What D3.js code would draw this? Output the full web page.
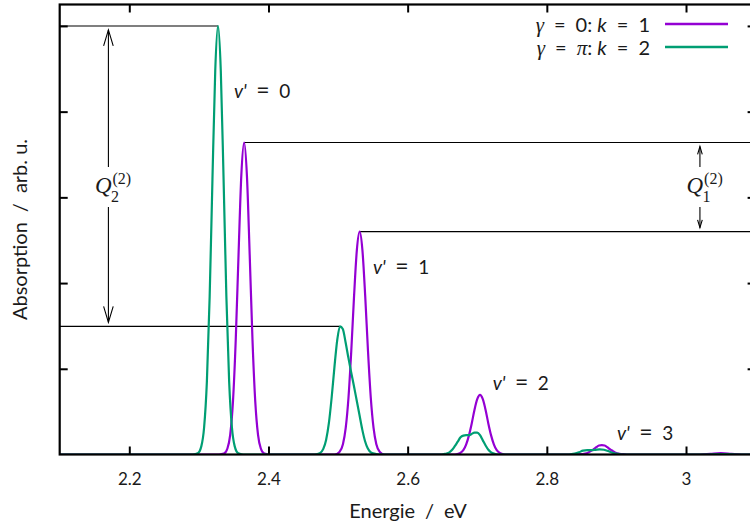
<!DOCTYPE html>
<html><head><meta charset="utf-8">
<script src="https://cdn.jsdelivr.net/npm/d3@7"></script>
<style>body{margin:0;background:#fff} svg{display:block}</style>
</head><body>
<svg id="c" width="750" height="530"></svg>
<script>
// ---------- data ----------
const xTicks = [2.2, 2.4, 2.6, 2.8, 3.0];
const yTicks = [0.2, 0.4, 0.6, 0.8, 1.0];

const energyPurple = [2.1,
 2.329, 2.336, 2.341, 2.345, 2.349, 2.353, 2.357, 2.361, 2.365, 2.369, 2.373, 2.377, 2.381, 2.385, 2.389, 2.394, 2.401,
 2.495, 2.502, 2.507, 2.511, 2.515, 2.519, 2.523, 2.527, 2.531, 2.535, 2.539, 2.543, 2.547, 2.551, 2.555, 2.560, 2.567,
 2.668, 2.675, 2.680, 2.684, 2.688, 2.692, 2.696, 2.700, 2.704, 2.708, 2.712, 2.716, 2.720, 2.724, 2.728, 2.733, 2.740,
 2.843, 2.850, 2.855, 2.859, 2.863, 2.867, 2.871, 2.875, 2.879, 2.883, 2.887, 2.891, 2.895, 2.899, 2.903, 2.908, 2.915,
 3.020, 3.035, 3.050, 3.065, 3.080, 3.1];
const absPurple = [0,
 0, 0.002, 0.014, 0.046, 0.124, 0.269, 0.467, 0.652, 0.728, 0.652, 0.467, 0.269, 0.124, 0.046, 0.014, 0.002, 0,
 0, 0.006, 0.024, 0.062, 0.133, 0.242, 0.370, 0.477, 0.520, 0.477, 0.370, 0.242, 0.133, 0.062, 0.024, 0.006, 0,
 0, 0.003, 0.010, 0.023, 0.044, 0.072, 0.104, 0.129, 0.139, 0.129, 0.104, 0.072, 0.044, 0.023, 0.010, 0.003, 0,
 0, 0.001, 0.002, 0.004, 0.008, 0.012, 0.017, 0.021, 0.022, 0.021, 0.017, 0.012, 0.008, 0.004, 0.002, 0.001, 0,
 0, 0.0015, 0.003, 0.0015, 0, 0];

const energyGreen = [2.1,
 2.2915, 2.2985, 2.3035, 2.3075, 2.3115, 2.3155, 2.3195, 2.3235, 2.3275, 2.3315, 2.3355, 2.3395, 2.3435, 2.3475, 2.3515, 2.3565, 2.3635,
 2.4668, 2.4738, 2.4788, 2.4828, 2.4868, 2.4908, 2.4948, 2.4988, 2.5028, 2.5068, 2.5108, 2.5148, 2.5188, 2.5228, 2.5268, 2.5308, 2.5348, 2.5388, 2.5428, 2.5478, 2.5548, 2.5620,
 2.648, 2.652, 2.656, 2.660, 2.664, 2.668, 2.672, 2.676, 2.680, 2.684, 2.688, 2.692, 2.696, 2.700, 2.704, 2.708, 2.712, 2.716, 2.720, 2.724, 2.728, 2.734,
 2.832, 2.840, 2.846, 2.852, 2.858, 2.864, 2.870, 2.876, 2.882, 2.888, 2.894, 2.900, 2.908,
 3.030, 3.045, 3.060, 3.075, 3.1];
const absGreen = [0,
 0, 0.003, 0.019, 0.063, 0.170, 0.369, 0.642, 0.895, 1.000, 0.895, 0.642, 0.369, 0.170, 0.063, 0.019, 0.003, 0,
 0, 0.003, 0.013, 0.034, 0.073, 0.133, 0.204, 0.267, 0.299, 0.293, 0.262, 0.226, 0.192, 0.160, 0.126, 0.092, 0.058, 0.031, 0.014, 0.004, 0.001, 0,
 0, 0.001, 0.002, 0.005, 0.011, 0.020, 0.030, 0.040, 0.044, 0.045, 0.045, 0.048, 0.051, 0.051, 0.045, 0.033, 0.021, 0.011, 0.005, 0.002, 0.0005, 0,
 0, 0.002, 0.005, 0.009, 0.010, 0.010, 0.011, 0.012, 0.011, 0.008, 0.004, 0.002, 0,
 0, 0.001, 0.001, 0, 0];

// reference levels (data units): peak heights marked by horizontal lines
const levelLines = [
  {from: 2.1, to: 2.3275, level: 1.0},
  {from: 2.1, to: 2.5028, level: 0.299},
  {from: 2.365, to: 3.1, level: 0.728},
  {from: 2.531, to: 3.1, level: 0.520}
];
const qArrows = [
  {x: 2.17, hi: 1.0, lo: 0.299, sub: "2"},
  {x: 3.02, hi: 0.728, lo: 0.520, sub: "1"}
];
const qLabelLevel = 0.624;
const vLabels = [
  {x: 2.3505, y: 0.832, n: "0"},
  {x: 2.5502, y: 0.421, n: "1"},
  {x: 2.7222, y: 0.150, n: "2"},
  {x: 2.9008, y: 0.0327, n: "3"}
];
const legendRows = [
  {gamma: "0", k: "1"},
  {gamma: "π", k: "2"}
];

// ---------- layout ----------
const colors = ["#9400D3", "#009E73"];
const SANS = "Lato, 'Open Sans', sans-serif";
const SERIF = "'Liberation Serif', 'DejaVu Serif', serif";
const TXT = "#1a1a1a";
const SP = "\u2002";
const M = {left: 59.7, right: 755.6, top: 4.5, bottom: 454.5};

const svg = d3.select("#c");
const x = d3.scaleLinear().domain([2.1, 3.1]).range([M.left, M.right]);
const y = d3.scaleLinear().domain([0, 1.05]).range([M.bottom, M.top]);

svg.append("defs").append("clipPath").attr("id", "clip")
  .append("rect").attr("x", M.left).attr("y", M.top)
  .attr("width", M.right - M.left).attr("height", M.bottom - M.top);

// reference lines
const ann = svg.append("g").attr("clip-path", "url(#clip)");
ann.selectAll("line.lvl").data(levelLines).join("line")
  .attr("class", "lvl")
  .attr("x1", d => x(d.from)).attr("x2", d => x(d.to))
  .attr("y1", d => y(d.level)).attr("y2", d => y(d.level))
  .attr("stroke", "#000").attr("stroke-width", 1.1);

// arrows
function arrowSeg(g, px, y0, tip) {
  g.append("line").attr("x1", px).attr("x2", px).attr("y1", y0).attr("y2", tip)
    .attr("stroke", "#000").attr("stroke-width", 1.1);
  const len = Math.min(16, Math.abs(y0 - tip) * 0.38);
  const w = len * 0.3;
  const s = Math.sign(y0 - tip);
  g.append("path")
    .attr("d", `M${px - w},${tip + s * len} L${px},${tip} L${px + w},${tip + s * len}`)
    .attr("fill", "none").attr("stroke", "#000").attr("stroke-width", 1.1);
}
qArrows.forEach(a => {
  const px = x(a.x), cy = y(qLabelLevel);
  arrowSeg(ann, px, cy - 20, y(a.hi) + 4);
  arrowSeg(ann, px, cy + 20, y(a.lo) - 4);
  const q0 = px - 13.5, base = cy + 6;
  const qt = svg.append("text").attr("x", q0).attr("y", base)
    .attr("font-family", SERIF).attr("font-style", "italic").attr("font-size", 23)
    .attr("fill", TXT).text("Q");
  const qEnd = q0 + qt.node().getComputedTextLength();
  svg.append("text").attr("x", qEnd + 1).attr("y", base - 9)
    .attr("font-family", SERIF).attr("font-size", 16).attr("fill", TXT).text("(2)");
  svg.append("text").attr("x", qEnd - 0.5).attr("y", base + 9)
    .attr("font-family", SERIF).attr("font-size", 16).attr("fill", TXT).text(a.sub);
});

// curves
const line = d3.line().x(d => x(d[0])).y(d => y(d[1])).curve(d3.curveMonotoneX);
const series = [d3.zip(energyPurple, absPurple), d3.zip(energyGreen, absGreen)];
const curves = svg.append("g").attr("clip-path", "url(#clip)");
curves.selectAll("path").data(series).join("path")
  .attr("d", line).attr("fill", "none")
  .attr("stroke", (d, i) => colors[i]).attr("stroke-width", 2.2)
  .attr("stroke-linejoin", "round");

// helper: "=" with math-like spacing
function eq(t, size) {
  t.append("tspan").text(SP);
  t.append("tspan").attr("font-size", size).text("=");
  t.append("tspan").text(SP);
}

// v' labels
const vl = svg.append("g").attr("font-family", SANS).attr("font-size", 19).attr("fill", TXT);
vLabels.forEach(v => {
  const t = vl.append("text").attr("x", x(v.x)).attr("y", y(v.y));
  t.append("tspan").attr("font-style", "italic").text("v'");
  eq(t, 23);
  t.append("tspan").text(v.n);
});

// axes
function styleAxis(g) {
  g.select(".domain").remove();
  g.selectAll(".tick line").attr("stroke", "#000").attr("stroke-width", 2);
  g.selectAll(".tick text").attr("font-family", SANS).attr("font-size", 17).attr("fill", TXT);
}
svg.append("g").attr("transform", `translate(0,${M.bottom})`)
  .call(d3.axisBottom(x).tickValues(xTicks).tickSizeInner(-8).tickSizeOuter(0)
    .tickPadding(18).tickFormat(d3.format("~g"))).call(styleAxis);
svg.append("g").attr("transform", `translate(0,${M.top})`)
  .call(d3.axisTop(x).tickValues(xTicks).tickSizeInner(-8).tickSizeOuter(0).tickFormat("")).call(styleAxis);
svg.append("g").attr("transform", `translate(${M.left},0)`)
  .call(d3.axisLeft(y).tickValues(yTicks).tickSizeInner(-8).tickSizeOuter(0).tickFormat("")).call(styleAxis);
svg.append("g").attr("transform", `translate(${M.right},0)`)
  .call(d3.axisRight(y).tickValues(yTicks).tickSizeInner(-8).tickSizeOuter(0).tickFormat("")).call(styleAxis);

svg.append("rect").attr("x", M.left).attr("y", M.top)
  .attr("width", M.right - M.left).attr("height", M.bottom - M.top)
  .attr("fill", "none").attr("stroke", "#000").attr("stroke-width", 2.2);

// axis titles
svg.append("text").attr("x", 408).attr("y", 518)
  .attr("text-anchor", "middle").attr("font-family", SANS).attr("font-size", 20)
  .attr("fill", TXT).text("Energie" + SP + "/" + SP + "eV");
svg.append("text").attr("transform", `translate(27,${(M.top + M.bottom) / 2}) rotate(-90)`)
  .attr("text-anchor", "middle").attr("font-family", SANS).attr("font-size", 20)
  .attr("fill", TXT).text("Absorption" + SP + "/" + SP + "arb. u.");

// legend
legendRows.forEach((r, i) => {
  const by = 31.5 + i * 23;
  const t = svg.append("text").attr("x", 650).attr("y", by).attr("text-anchor", "end")
    .attr("font-family", SANS).attr("font-size", 20).attr("fill", TXT);
  t.append("tspan").attr("font-family", SERIF).attr("font-style", "italic").attr("font-size", 21).text("γ");
  eq(t, 20);
  if (r.gamma === "π") t.append("tspan").attr("font-family", SERIF).attr("font-style", "italic").attr("font-size", 21).text("π");
  else t.append("tspan").text(r.gamma);
  t.append("tspan").text(": ");
  t.append("tspan").attr("font-style", "italic").text("k");
  eq(t, 20);
  t.append("tspan").text(r.k);
  svg.append("line").attr("x1", 665).attr("x2", 728).attr("y1", by - 7.5).attr("y2", by - 7.5)
    .attr("stroke", colors[i]).attr("stroke-width", 2.5);
});
</script>
</body></html>
